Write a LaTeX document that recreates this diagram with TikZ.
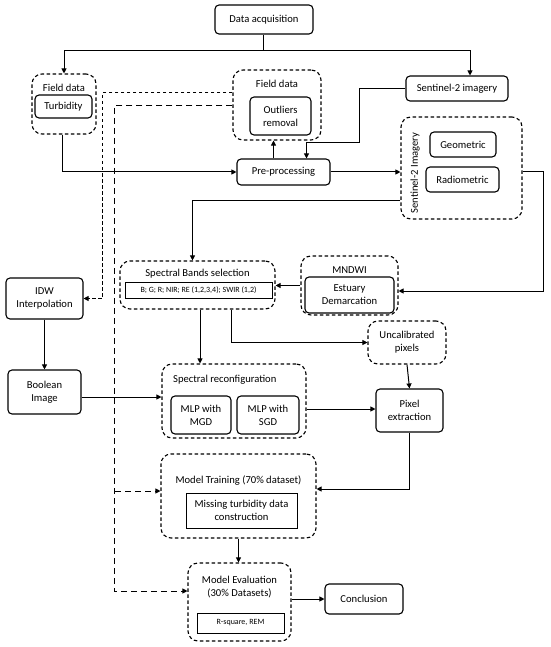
\documentclass[tikz,border=0pt]{standalone}
\usepackage{fontspec}
\setmainfont{Carlito}
\usetikzlibrary{arrows.meta,positioning}

\begin{document}
\begin{tikzpicture}[x=1pt,y=-1pt,
  font=\fontsize{10.6}{13}\selectfont,
  box/.style={draw,line width=1.1pt,rounded corners=4pt,align=center,inner sep=0pt},
  grp/.style={draw,line width=1.1pt,dash pattern=on 3.5pt off 2.5pt,rounded corners=10pt,align=center,inner sep=0pt},
  sq/.style={draw,line width=0.9pt,align=center,inner sep=0pt},
  ttl/.style={inner sep=0pt,align=center},
  tiny/.style={font=\fontsize{8}{9}\selectfont},
  arr/.style={-{Triangle[length=5pt,width=5pt]},line width=1pt},
  darr/.style={arr,dash pattern=on 3.5pt off 2.5pt},
  darrl/.style={arr,dash pattern=on 6pt off 4pt}]
\useasboundingbox (0,0) rectangle (550,647);
% top row
\node[box,minimum width=98pt,minimum height=29pt] (acq) at (264,19.5) {Data acquisition};
\node[grp,minimum width=64pt,minimum height=60pt] (fd1) at (64,104) {};
\node[ttl] (fd1t) at (64,88) {Field data};
\node[box,minimum width=57pt,minimum height=23pt] (turb) at (63.5,106.5) {Turbidity};
\node[grp,minimum width=88pt,minimum height=70pt] (fd2) at (277,105) {};
\node[ttl] (fd2t) at (277,84) {Field data};
\node[box,minimum width=61pt,minimum height=38pt] (outl) at (280.5,116) {Outliers\\removal};
\node[box,minimum width=102pt,minimum height=25pt] (s2) at (457,88.5) {Sentinel-2 imagery};
\node[box,minimum width=93pt,minimum height=26pt] (pre) at (283.5,172) {Pre-processing};
\node[grp,minimum width=121pt,minimum height=102pt] (s2g) at (461.5,168) {};
\node[ttl,rotate=90] (s2gt) at (415,173) {Sentinel-2 Imagery};
\node[box,minimum width=66pt,minimum height=25pt] (geo) at (463,144.5) {Geometric};
\node[box,minimum width=73pt,minimum height=25pt] (rad) at (462.5,179.5) {Radiometric};
% middle
\node[grp,minimum width=97pt,minimum height=59pt] (mndwi) at (349.5,285.5) {};
\node[ttl] (mndwit) at (349.5,270) {MNDWI};
\node[box,minimum width=89pt,minimum height=36pt] (estu) at (349.5,295) {Estuary\\Demarcation};
\node[grp,minimum width=155pt,minimum height=48pt] (bands) at (197.5,285) {};
\node[ttl] (bandst) at (197.5,274) {Spectral Bands selection};
\node[sq,tiny,minimum width=147pt,minimum height=16pt] (bandl) at (198.5,290) {B; G; R; NIR; RE (1,2,3,4); SWIR (1,2)};
\node[box,minimum width=77pt,minimum height=41pt] (idw) at (44.5,298.5) {IDW\\Interpolation};
\node[box,minimum width=73pt,minimum height=44pt] (bool) at (44.5,392) {Boolean\\Image};
\node[grp,minimum width=78pt,minimum height=43pt] (uncal) at (407,342.5) {Uncalibrated\\pixels};
\node[box,minimum width=67pt,minimum height=43pt] (pix) at (409.5,410.5) {Pixel\\extraction};
\node[grp,minimum width=144pt,minimum height=74pt] (recon) at (234,401) {};
\node[ttl,anchor=west] (recont) at (173,380) {Spectral reconfiguration};
\node[box,minimum width=60pt,minimum height=38pt] (mgd) at (201,415) {MLP with\\MGD};
\node[box,minimum width=62pt,minimum height=38pt] (sgd) at (268,415) {MLP with\\SGD};
% bottom
\node[grp,minimum width=155pt,minimum height=84pt] (train) at (238.5,496) {};
\node[ttl] (traint) at (238.5,481) {Model Training (70\% dataset)};
\node[sq,minimum width=111pt,minimum height=35pt] (miss) at (241.5,510.5) {Missing turbidity data\\construction};
\node[grp,minimum width=103pt,minimum height=78pt] (eval) at (239.5,602) {};
\node[ttl] (evalt) at (239.5,587) {Model Evaluation\\(30\% Datasets)};
\node[sq,tiny,minimum width=87pt,minimum height=20pt] (rsq) at (240.5,623) {R-square, REM};
\node[box,minimum width=78pt,minimum height=30pt] (concl) at (364,599) {Conclusion};
% connectors
\coordinate (j1) at (263,51);
\draw[line width=1pt] (acq.south -| j1) -- (j1);
\draw[arr] (j1) -| (fd1.north);
\draw[arr] (j1) -| ([xshift=13pt]s2.north);
\draw[arr] ([xshift=-2pt]fd1.south) |- (pre.west);
\draw[arr] ([xshift=-10pt]pre.north) -- ([xshift=-10pt]pre.north |- fd2.south);
\draw[arr] (s2.west) -| (359,143) -| ([xshift=23pt]pre.north);
\draw[arr] (pre.east) -- (pre.east -| s2g.west);
\draw[arr] ([yshift=-32pt]s2g.west) -| ([xshift=-5pt]bands.north);
\draw[arr] ([yshift=-4pt]s2g.east) -- ++(21,0) |- ([yshift=-5.5pt]mndwi.east);
\draw[arr] (mndwi.west) -- (mndwi.west -| bands.east);
\draw[arr] ([xshift=2.5pt]bands.south) -- ([xshift=2.5pt]bands.south |- recon.north);
\draw[arr] ([xshift=33.5pt]bands.south) |- (uncal.west);
\draw[arr] (idw.south) -- (bool.north);
\draw[arr] ([yshift=-5pt]bool.east) -- ([yshift=-5pt]bool.east -| recon.west);
\draw[arr] (uncal.south) -- (pix.north);
\draw[arr] ([yshift=-8pt]recon.east) -- ([yshift=-8pt]recon.east -| pix.west);
\draw[arr] (pix.south) |- ([yshift=7pt]train.east);
\draw[arr] (train.south) -- (train.south |- eval.north);
\draw[arr] (eval.east |- concl.west) -- (concl.west);
% dashed feeds from field data
\draw[darr] ([yshift=12pt]fd2.west) -- ++(-130,0) |- (idw.east);
\coordinate (j2) at (115,491);
\draw[darrl] ([yshift=-1pt]fd2.west) -- ++(-118,0) |- ([yshift=11pt]eval.west);
\draw[darrl] (j2) -- (j2 -| train.west);
\end{tikzpicture}
\end{document}
